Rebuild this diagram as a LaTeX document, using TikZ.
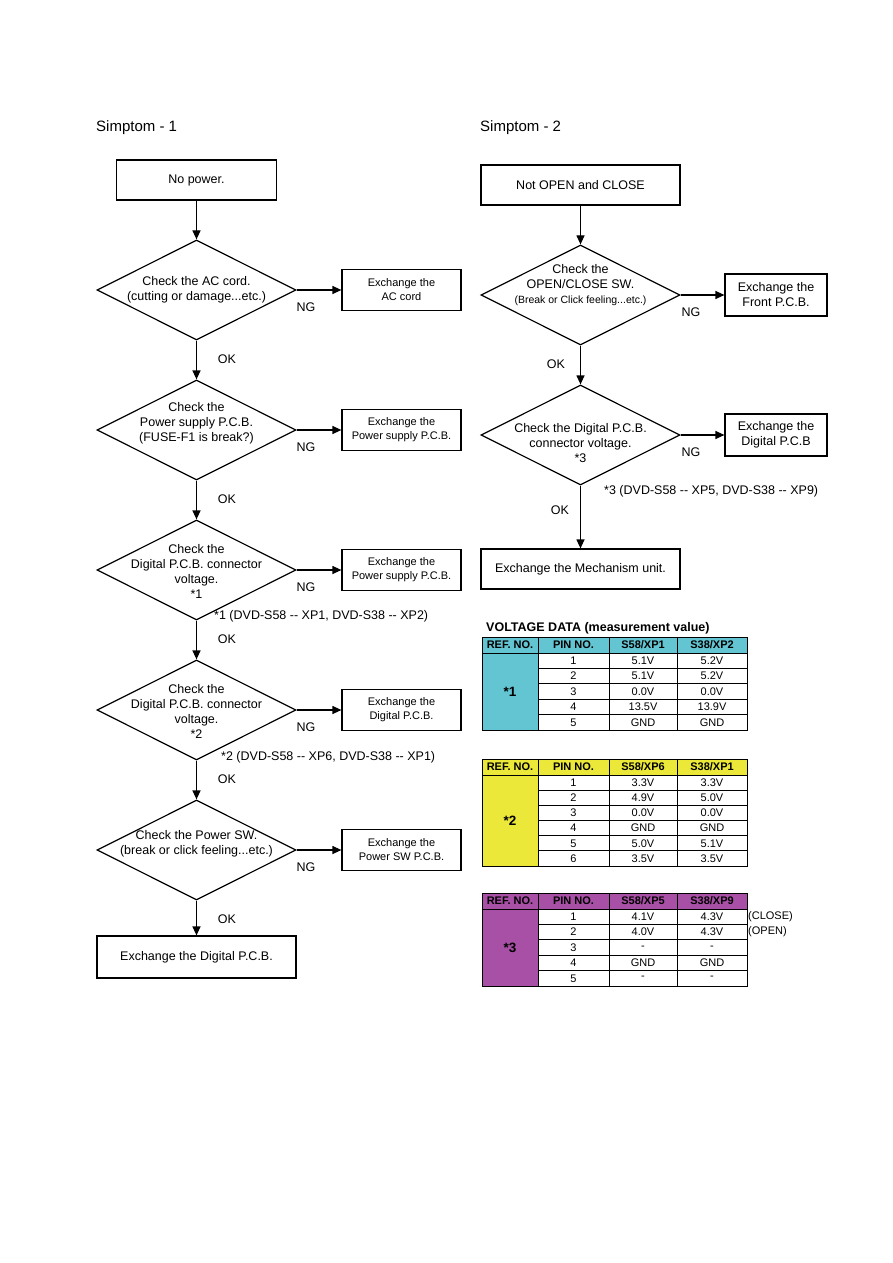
\documentclass[tikz,border=0pt]{standalone}
\usepackage{fontspec}
\setmainfont{Liberation Sans}
\usetikzlibrary{arrows.meta,shapes.geometric}
\definecolor{tcyan}{RGB}{100,197,210}
\definecolor{tyel}{RGB}{236,232,58}
\definecolor{tpur}{RGB}{168,80,166}
\newcommand\dd{-\kern0pt-}
% #1 prefix, #2 top, #3 row height, #4 rows, #5 colour, #6 ref, #7 hdr3, #8 hdr4, #9 data
\newcommand\vtab[9]{%
  \pgfmathsetmacro\VThb{#2+16}%
  \pgfmathsetmacro\VTbot{#2+16+#3*#4}%
  \pgfmathtruncatemacro\VTn{#4-1}%
  \fill[#5] (482,#2) rectangle (747,\VThb);
  \fill[#5] (482,\VThb) rectangle (538,\VTbot);
  \foreach \i in {1,...,\VTn}{\draw[tline] (538,\VThb+\i*#3) -- (747,\VThb+\i*#3);}
  \draw[tline] (482,\VThb) -- (747,\VThb);
  \foreach \x in {538,609,677}{\draw[tline] (\x,#2) -- (\x,\VTbot);}
  \draw[tline] (482,#2) rectangle (747,\VTbot);
  \node[thead] (#1h1) at (510,#2+8) {REF. NO.};
  \node[thead] (#1h2) at (573.5,#2+8) {PIN NO.};
  \node[thead] (#1h3) at (643,#2+8) {#7};
  \node[thead] (#1h4) at (712,#2+8) {#8};
  \node[tref] (#1ref) at (510,{(\VThb+\VTbot)/2}) {#6};
  \foreach \pa/\pb [count=\i] in {#9}{%
    \node[tdata] (#1p\i) at (573.5,\VThb+\i*#3-#3/2) {\i};
    \node[tdata] (#1a\i) at (643,\VThb+\i*#3-#3/2) {\pa};
    \node[tdata] (#1b\i) at (712,\VThb+\i*#3-#3/2) {\pb};
  }%
}
\begin{document}
\begin{tikzpicture}[x=1pt,y=-1pt,
  box/.style={draw,line width=1.2pt,inner sep=0pt,align=center,font=\fontsize{12.5}{15}\selectfont},
  sbox/.style={box,font=\fontsize{11}{14}\selectfont},
  diam/.style={draw,diamond,line width=1.2pt,inner sep=0pt,minimum width=199pt,minimum height=100pt},
  dtext/.style={align=center,inner sep=0pt,font=\fontsize{12.5}{15}\selectfont},
  lbl/.style={inner sep=0pt,font=\fontsize{12.5}{15}\selectfont},
  arr/.style={line width=1.2pt,-{Triangle[length=9pt,width=8pt]}},
  tline/.style={line width=0.8pt},
  thead/.style={inner sep=0pt,font=\fontsize{11}{13}\selectfont\bfseries},
  tdata/.style={inner sep=0pt,font=\fontsize{11}{13}\selectfont},
  tref/.style={inner sep=0pt,font=\fontsize{13.5}{15}\selectfont\bfseries}]
\fill[white] (0,0) rectangle (893,1263);
\useasboundingbox (0,0) rectangle (893,1263);

% ---------------- Symptom 1 ----------------
\node[lbl,anchor=west,font=\fontsize{15}{18}\selectfont] (s1) at (96,128) {Simptom - 1};
\node[box,minimum width=160pt,minimum height=40pt] (b0) at (196.5,180) {No power.};

\node[diam] (d1) at (196.5,290) {};
\node[dtext] (d1t) at (196.5,290) {Check the AC cord.\\(cutting or damage...etc.)};
\node[diam] (d2) at (196.5,430) {};
\node[dtext] (d2t) at (196.5,423) {Check the\\Power supply P.C.B.\\(FUSE-F1 is break?)};
\node[diam] (d3) at (196.5,570) {};
\node[dtext] (d3t) at (196.5,571) {Check the\\Digital P.C.B. connector\\voltage.\\*1};
\node[diam] (d4) at (196.5,710) {};
\node[dtext] (d4t) at (196.5,711) {Check the\\Digital P.C.B. connector\\voltage.\\*2};
\node[diam] (d5) at (196.5,850) {};
\node[dtext] (d5t) at (196.5,844) {Check the Power SW.\\(break or click feeling...etc.)};
\node[box,minimum width=199pt,minimum height=42pt] (bL) at (196.5,957) {Exchange the Digital P.C.B.};

\node[sbox,minimum width=119pt,minimum height=41pt] (e1) at (401.5,290) {Exchange the\\AC cord};
\node[sbox,minimum width=119pt,minimum height=41pt] (e2) at (401.5,430) {Exchange the\\Power supply P.C.B.};
\node[sbox,minimum width=119pt,minimum height=41pt] (e3) at (401.5,570) {Exchange the\\Power supply P.C.B.};
\node[sbox,minimum width=119pt,minimum height=41pt] (e4) at (401.5,710) {Exchange the\\Digital P.C.B.};
\node[sbox,minimum width=119pt,minimum height=41pt] (e5) at (401.5,850) {Exchange the\\Power SW P.C.B.};

\draw[arr] (b0) -- (d1);
\draw[arr] (d1) -- (d2);
\draw[arr] (d2) -- (d3);
\draw[arr] (d3) -- (d4);
\draw[arr] (d4) -- (d5);
\draw[arr] (d5) -- (bL);
\draw[arr] (d1) -- (e1);
\draw[arr] (d2) -- (e2);
\draw[arr] (d3) -- (e3);
\draw[arr] (d4) -- (e4);
\draw[arr] (d5) -- (e5);

\node[lbl] (ng1) at (306,307) {NG};
\node[lbl] (ng2) at (306,447) {NG};
\node[lbl] (ng3) at (306,587) {NG};
\node[lbl] (ng4) at (306,727) {NG};
\node[lbl] (ng5) at (306,867) {NG};
\node[lbl] (ok1) at (227,359) {OK};
\node[lbl] (ok2) at (227,499) {OK};
\node[lbl] (ok3) at (227,639) {OK};
\node[lbl] (ok4) at (227,779) {OK};
\node[lbl] (ok5) at (227,919) {OK};
\node[lbl,anchor=west] (f1) at (214,616) {*1 (DVD-S58 \dd{} XP1, DVD-S38 \dd{} XP2)};
\node[lbl,anchor=west] (f2) at (221,757) {*2 (DVD-S58 \dd{} XP6, DVD-S38 \dd{} XP1)};

% ---------------- Symptom 2 ----------------
\node[lbl,anchor=west,font=\fontsize{15}{18}\selectfont] (s2) at (480,128) {Simptom - 2};
\node[box,minimum width=199pt,minimum height=40pt] (r0) at (580.5,185) {Not OPEN and CLOSE};
\node[diam] (da) at (580.5,295) {};
\node[dtext] (dat) at (580.5,285) {Check the\\OPEN/CLOSE SW.\\{\fontsize{10.5}{14}\selectfont(Break or Click feeling...etc.)}};
\node[diam] (db) at (580.5,435) {};
\node[dtext] (dbt) at (580.5,443) {Check the Digital P.C.B.\\connector voltage.\\*3};
\node[box,minimum width=199pt,minimum height=40pt] (rL) at (580.5,569) {Exchange the Mechanism unit.};
\node[box,minimum width=102pt,minimum height=42pt] (ea) at (776,295) {Exchange the\\Front P.C.B.};
\node[box,minimum width=102pt,minimum height=42pt] (eb) at (776,435) {Exchange the\\Digital P.C.B};

\draw[arr] (r0) -- (da);
\draw[arr] (da) -- (db);
\draw[arr] (db) -- (rL);
\draw[arr] (da) -- (ea);
\draw[arr] (db) -- (eb);

\node[lbl] (nga) at (691,312) {NG};
\node[lbl] (ngb) at (691,452) {NG};
\node[lbl] (oka) at (556,364) {OK};
\node[lbl] (okb) at (560,510) {OK};
\node[lbl,anchor=west] (f3) at (604,491) {*3 (DVD-S58 \dd{} XP5, DVD-S38 \dd{} XP9)};

% ---------------- Tables ----------------
\node[lbl,anchor=west,font=\fontsize{12.5}{15}\selectfont\bfseries] (vt) at (486,628) {VOLTAGE DATA (measurement value)};
\vtab{ta}{637}{15.4}{5}{tcyan}{*1}{S58/XP1}{S38/XP2}{5.1V/5.2V,5.1V/5.2V,0.0V/0.0V,13.5V/13.9V,GND/GND}
\vtab{tb}{759}{15.17}{6}{tyel}{*2}{S58/XP6}{S38/XP1}{3.3V/3.3V,4.9V/5.0V,0.0V/0.0V,GND/GND,5.0V/5.1V,3.5V/3.5V}
\vtab{tc}{893}{15.4}{5}{tpur}{*3}{S58/XP5}{S38/XP9}{4.1V/4.3V,4.0V/4.3V,-/-,GND/GND,-/-}
\node[tdata,anchor=west] (cl) at (748,916.7) {(CLOSE)};
\node[tdata,anchor=west] (op) at (748,932.1) {(OPEN)};
\end{tikzpicture}
\end{document}
